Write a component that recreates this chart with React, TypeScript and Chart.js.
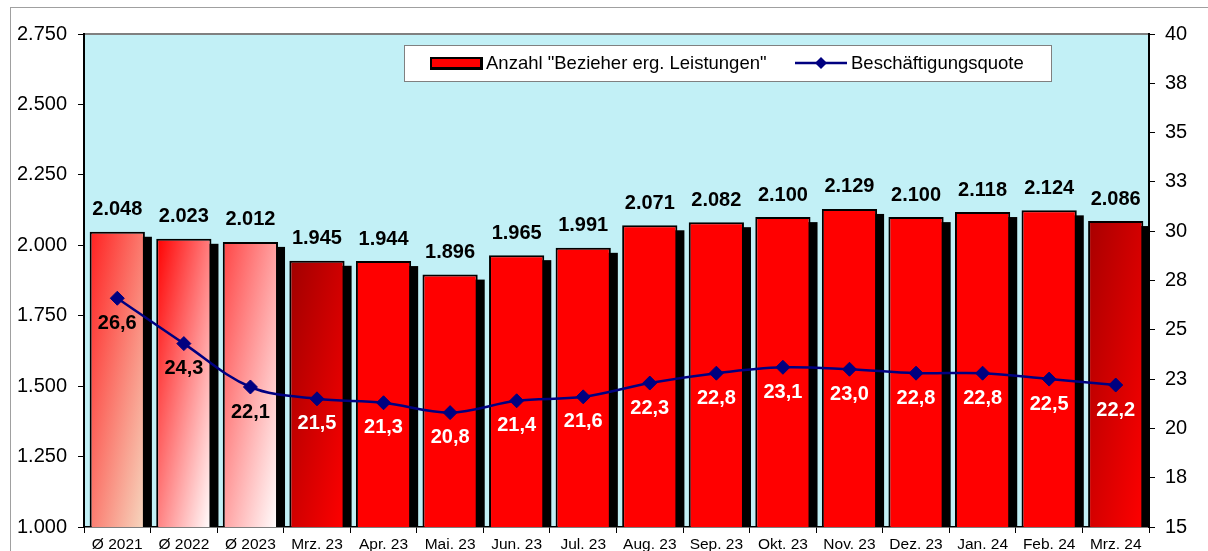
import React, { useEffect, useRef } from 'react';
import { Chart, registerables } from 'chart.js';

Chart.register(...registerables);

const categories = ['Ø 2021', 'Ø 2022', 'Ø 2023', 'Mrz. 23', 'Apr. 23', 'Mai. 23', 'Jun. 23', 'Jul. 23', 'Aug. 23', 'Sep. 23', 'Okt. 23', 'Nov. 23', 'Dez. 23', 'Jan. 24', 'Feb. 24', 'Mrz. 24'];
const bezieher = [2048, 2023, 2012, 1945, 1944, 1896, 1965, 1991, 2071, 2082, 2100, 2129, 2100, 2118, 2124, 2086];
const quote = [26.6, 24.3, 22.1, 21.5, 21.3, 20.8, 21.4, 21.6, 22.3, 22.8, 23.1, 23.0, 22.8, 22.8, 22.5, 22.2];
const leftMin = 1000;
const leftMax = 2750;
const leftStep = 250;
const rightMin = 15;
const rightMax = 40;
const rightStep = 2.5;
const barLabel = 'Anzahl "Bezieher erg. Leistungen"';
const lineLabel = 'Beschäftigungsquote';

// gradient start/end per bar
const barFills: [string, string][] = [
  ['#ff2020', '#f6d8c0'],
  ['#ff0000', '#ffffff'],
  ['#ff4545', '#ffffff'],
  ['#a00000', '#ff0000'],
  ['#ff0000', '#ff0000'],
  ['#ff0000', '#ff0000'],
  ['#ff0000', '#ff0000'],
  ['#ff0000', '#ff0000'],
  ['#ff0000', '#ff0000'],
  ['#ff0000', '#ff0000'],
  ['#ff0000', '#ff0000'],
  ['#ff0000', '#ff0000'],
  ['#ff0000', '#ff0000'],
  ['#ff0000', '#ff0000'],
  ['#ff0000', '#ff0000'],
  ['#a80000', '#ff0000'],
];
const quoteLabelColors = ['#000', '#000', '#000', '#fff', '#fff', '#fff', '#fff', '#fff', '#fff', '#fff', '#fff', '#fff', '#fff', '#fff', '#fff', '#fff'];

const FONT = '"Liberation Sans", Arial, sans-serif';
const BAR_PCT = 0.83;
const NAVY = '#000080';

const fmtThousands = (v: number) => {
  const s = Math.round(v).toString();
  return s.replace(/\B(?=(\d{3})+(?!\d))/g, '.');
};
const fmtDec = (v: number) => v.toFixed(1).replace('.', ',');

const framePlugin = {
  id: 'frameBg',
  beforeDraw(chart: any) {
    const { ctx, chartArea: a } = chart;
    ctx.save();
    ctx.strokeStyle = '#a0a0a0';
    ctx.lineWidth = 1;
    ctx.strokeRect(10.5, 7.5, 3000, 3000);
    ctx.fillStyle = '#c2f0f6';
    ctx.fillRect(a.left, a.top, a.right - a.left, a.bottom - a.top);
    ctx.strokeStyle = '#808080';
    ctx.lineWidth = 2;
    ctx.beginPath();
    ctx.moveTo(a.left, a.top);
    ctx.lineTo(a.right, a.top);
    ctx.stroke();
    ctx.restore();
  },
  beforeDatasetsDraw(chart: any) {
    const { ctx, chartArea: a } = chart;
    const meta = chart.getDatasetMeta(0);
    ctx.save();
    ctx.beginPath();
    ctx.rect(a.left, a.top, a.right - a.left, a.bottom - a.top - 1);
    ctx.clip();
    ctx.fillStyle = '#000';
    meta.data.forEach((el: any) => {
      const p = el.getProps(['x', 'y', 'base', 'width'], true);
      ctx.fillRect(p.x - p.width / 2 + 7, p.y + 5, p.width, p.base - p.y);
    });
    ctx.restore();
  },
  afterDatasetsDraw(chart: any) {
    const { ctx } = chart;
    const barMeta = chart.getDatasetMeta(0);
    const lineMeta = chart.getDatasetMeta(1);
    ctx.save();
    ctx.font = `bold 20px ${FONT}`;
    ctx.textAlign = 'center';
    ctx.textBaseline = 'middle';
    barMeta.data.forEach((el: any, i: number) => {
      const p = el.getProps(['x', 'y'], true);
      ctx.fillStyle = '#000';
      ctx.fillText(fmtThousands(bezieher[i]), p.x, p.y - 22);
    });
    lineMeta.data.forEach((el: any, i: number) => {
      const p = el.getProps(['x', 'y'], true);
      ctx.fillStyle = quoteLabelColors[i];
      ctx.fillText(fmtDec(quote[i]), p.x, p.y + 25);
    });
    ctx.restore();
  },
  afterDraw(chart: any) {
    const { ctx } = chart;
    ctx.save();
    ctx.fillStyle = '#fff';
    ctx.fillRect(404.5, 45.5, 647, 36);
    ctx.strokeStyle = '#808080';
    ctx.lineWidth = 1;
    ctx.strokeRect(404.5, 45.5, 647, 36);
    const cy = 63;
    ctx.fillStyle = '#000';
    ctx.fillRect(430, cy - 6, 53, 13);
    ctx.fillStyle = '#ff0000';
    ctx.fillRect(432, cy - 4, 48, 8);
    ctx.font = `18.5px ${FONT}`;
    ctx.fillStyle = '#000';
    ctx.textAlign = 'left';
    ctx.textBaseline = 'middle';
    ctx.fillText(barLabel, 486, cy + 1);
    ctx.strokeStyle = NAVY;
    ctx.lineWidth = 2.5;
    ctx.beginPath();
    ctx.moveTo(795, cy);
    ctx.lineTo(847, cy);
    ctx.stroke();
    ctx.fillStyle = NAVY;
    ctx.beginPath();
    ctx.moveTo(821, cy - 6);
    ctx.lineTo(827, cy);
    ctx.lineTo(821, cy + 6);
    ctx.lineTo(815, cy);
    ctx.closePath();
    ctx.fill();
    ctx.fillStyle = '#000';
    ctx.fillText(lineLabel, 851, cy + 1);
    ctx.restore();
  },
};

export default function App() {
  const ref = useRef<HTMLCanvasElement | null>(null);
  useEffect(() => {
    if (!ref.current) return;
    const chart = new Chart(ref.current, {
      type: 'bar',
      data: {
        labels: categories,
        datasets: [
          {
            type: 'bar',
            label: barLabel,
            data: bezieher,
            yAxisID: 'y',
            order: 2,
            borderColor: '#000',
            borderWidth: 2,
            borderSkipped: false,
            categoryPercentage: 1,
            barPercentage: BAR_PCT,
            backgroundColor: (c: any) => {
              const i = c.dataIndex;
              if (i === undefined || i === null) return '#ff0000';
              const [c0, c1] = barFills[i];
              if (c0 === c1) return c0;
              const chart = c.chart;
              const xs = chart.scales.x;
              const ys = chart.scales.y;
              if (!xs || !ys) return c0;
              const step = xs.getPixelForValue(1) - xs.getPixelForValue(0);
              const w = step * BAR_PCT;
              const cx = xs.getPixelForValue(i);
              const left = cx - w / 2;
              const top = ys.getPixelForValue(bezieher[i]);
              const h = ys.getPixelForValue(leftMin) - top;
              if (!isFinite(left) || !isFinite(top) || h <= 0) return c0;
              const k = (2 * w * h) / (h * h + w * w);
              const g = chart.ctx.createLinearGradient(left, top, left + h * k, top + w * k);
              g.addColorStop(0, c0);
              g.addColorStop(1, c1);
              return g;
            },
          } as any,
          {
            type: 'line',
            label: lineLabel,
            data: quote,
            yAxisID: 'y1',
            order: 1,
            borderColor: NAVY,
            backgroundColor: NAVY,
            borderWidth: 2.5,
            tension: 0.35,
            pointStyle: 'rectRot',
            pointRadius: 7,
            pointBackgroundColor: NAVY,
            pointBorderColor: NAVY,
            pointBorderWidth: 1,
          } as any,
        ],
      },
      options: {
        animation: false,
        responsive: false,
        devicePixelRatio: 1,
        layout: { padding: { top: 34, left: 0, right: 0, bottom: 0 } },
        plugins: {
          legend: { display: false },
          tooltip: { enabled: false },
        },
        scales: {
          x: {
            offset: true,
            grid: { drawOnChartArea: false, drawTicks: true, tickLength: 6, color: '#000', offset: true },
            border: { display: true, color: '#000', width: 1.5 },
            ticks: { color: '#000', font: { family: FONT, size: 15.5 }, padding: 2, maxRotation: 0, autoSkip: false },
            afterFit: (s: any) => { s.height = 24; },
          },
          y: {
            position: 'left',
            min: leftMin,
            max: leftMax,
            grid: { drawOnChartArea: false, drawTicks: true, tickLength: 6, color: '#000' },
            border: { display: true, color: '#000', width: 2 },
            ticks: {
              stepSize: leftStep,
              color: '#000',
              font: { family: FONT, size: 20 },
              padding: 11,
              callback: (v: any) => fmtThousands(Number(v)),
            },
            afterFit: (s: any) => { s.width = 84; },
          },
          y1: {
            position: 'right',
            min: rightMin,
            max: rightMax,
            grid: { drawOnChartArea: false, drawTicks: true, tickLength: 6, color: '#000' },
            border: { display: true, color: '#000', width: 2 },
            ticks: {
              stepSize: rightStep,
              color: '#000',
              font: { family: FONT, size: 20 },
              padding: 10,
              callback: (v: any) => String(Math.round(Number(v))),
            },
            afterFit: (s: any) => { s.width = 59; },
          },
        },
      } as any,
      plugins: [framePlugin],
    });
    return () => chart.destroy();
  }, []);
  return (
    <div style={{ position: 'absolute', left: 0, top: 0, width: 1208, height: 551, overflow: 'hidden', background: '#fff' }}>
      <canvas ref={ref} width={1208} height={551} style={{ display: 'block' }} />
    </div>
  );
}
